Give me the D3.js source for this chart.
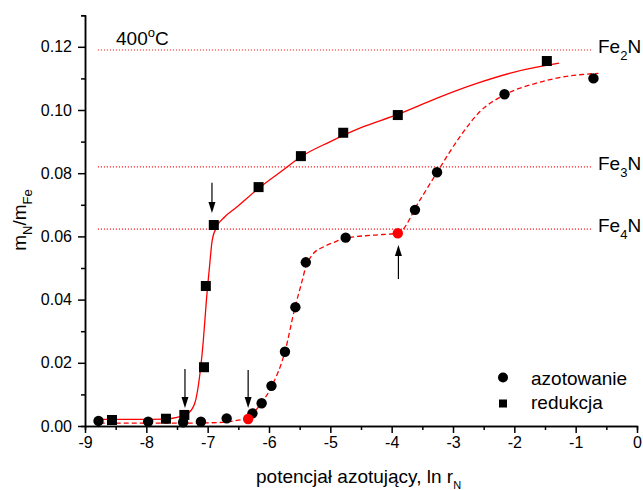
<!DOCTYPE html>
<html>
<head>
<meta charset="utf-8">
<script src="https://cdn.jsdelivr.net/npm/d3@7"></script>
<style>
  body { margin: 0; background: #fff; }
  svg { font-family: "Liberation Sans", Arial, sans-serif; }
  .axis path, .axis line { stroke: #000; stroke-width: 1.5; }
  .axis text { font-size: 16px; fill: #000; }
</style>
</head>
<body>
<svg width="643" height="490"></svg>
<script>
// azotowanie (nitriding) measurements, black circles
var nitridingPts = [[-8.78,0.0016],[-7.97,0.0014],[-7.40,0.0012],[-7.11,0.0014],[-6.69,0.0024],
  [-6.27,0.0040],[-6.12,0.0072],[-5.96,0.0127],[-5.74,0.0235],[-5.57,0.0376],[-5.40,0.0518],
  [-4.75,0.0596],[-3.62,0.0684],[-3.26,0.0803],[-2.16,0.1050],[-0.71,0.1100]];
// highlighted nitriding points (red)
var nitridingRed = [[-6.34,0.0022],[-3.90,0.0610]];
// redukcja (reduction) measurements, squares
var reductionPts = [[-8.56,0.0019],[-7.68,0.0023],[-7.38,0.0035],[-7.06,0.0186],[-7.03,0.0443],
  [-6.90,0.0636],[-6.17,0.0756],[-5.48,0.0854],[-4.79,0.0928],[-3.90,0.0984],[-1.47,0.1155]];

// fitted curves
var reductionFit = [[-8.76,0.0021],[-8.2,0.0021],[-7.7,0.0022],[-7.5,0.0027],[-7.32,0.0040],
  [-7.21,0.0072],[-7.125,0.0167],[-7.07,0.0272],[-7.02,0.0399],[-6.97,0.0504],[-6.925,0.0589],
  [-6.85,0.0631],[-6.72,0.0662],[-6.55,0.0689],[-6.17,0.0752],[-5.77,0.0810],[-5.48,0.0852],
  [-5.0,0.0900],[-4.5,0.0944],[-3.9,0.0986],[-3.27,0.1037],[-2.6,0.1085],[-2.0,0.1120],[-1.27,0.1148]];
var nitridingFit = [[-8.76,0.0009],[-7.5,0.0009],[-6.8,0.0011],[-6.55,0.0017],[-6.36,0.0024],
  [-6.15,0.0066],[-5.96,0.0124],[-5.74,0.0235],[-5.58,0.0372],[-5.47,0.0452],[-5.40,0.0503],
  [-5.30,0.0540],[-5.1,0.0568],[-4.92,0.0583],[-4.76,0.0594],[-4.3,0.0604],[-3.9,0.0610],[-3.54,0.0715],
  [-3.26,0.0803],[-2.885,0.0916],[-2.56,0.0995],[-2.16,0.1048],[-1.64,0.1085],[-1.09,0.1108],[-0.63,0.1116]];

// phase levels (dotted lines)
var phaseNames = ['2', '3', '4'];
var phaseLevels = [0.119, 0.082, 0.0623];
var phaseRange = [-8.79, -0.72];

// arrows: x, start value, tip value
var arrows = [[-6.93,0.0770,0.0674],[-7.37,0.0180,0.0057],[-6.34,0.0177,0.0057],[-3.89,0.0465,0.0573]];

var xTicks = d3.range(-9, 0.5, 1);
var yTicks = [0, 0.02, 0.04, 0.06, 0.08, 0.10, 0.12];

var svg = d3.select('svg');
var x = d3.scaleLinear().domain([-9, 0]).range([85, 637]);
var y = d3.scaleLinear().domain([0, 0.13]).range([426, 15.2]);

// minor ticks
svg.append('g').attr('class', 'axis')
    .attr('transform', 'translate(0,426)')
    .call(d3.axisBottom(x).tickValues(d3.range(-8.5, 0, 1)).tickSize(4).tickFormat(''));
svg.append('g').attr('class', 'axis')
    .attr('transform', 'translate(85,0)')
    .call(d3.axisLeft(y).tickValues(d3.range(0.01, 0.135, 0.02)).tickSize(4).tickFormat(''));

// major axes
svg.append('g').attr('class', 'axis')
    .attr('transform', 'translate(0,426)')
    .call(d3.axisBottom(x).tickValues(xTicks).tickSize(7).tickSizeOuter(0).tickPadding(4)
      .tickFormat(d => d === 0 ? '0' : String(d).replace('−', '-')));
svg.append('g').attr('class', 'axis')
    .attr('transform', 'translate(85,0)')
    .call(d3.axisLeft(y).tickValues(yTicks).tickSize(7).tickSizeOuter(0).tickPadding(6)
      .tickFormat(d3.format('.2f')));

// dotted phase lines + labels
phaseLevels.forEach((v, i) => {
    svg.append('line')
        .attr('x1', x(phaseRange[0])).attr('x2', x(phaseRange[1]))
        .attr('y1', y(v)).attr('y2', y(v))
        .attr('stroke', '#ff0000').attr('stroke-width', 1.1)
        .attr('stroke-dasharray', '1,2');
    var t = svg.append('text')
        .attr('x', 598).attr('y', y(v) + 3)
        .style('font-size', '19px');
    t.append('tspan').text('Fe');
    t.append('tspan').attr('dy', 7).style('font-size', '13px').text(phaseNames[i]);
    t.append('tspan').attr('dy', -7).text('N');
});

// fitted curves
var line = d3.line().x(d => x(d[0])).y(d => y(d[1])).curve(d3.curveMonotoneX);
svg.append('path').datum(reductionFit)
    .attr('d', line).attr('fill', 'none')
    .attr('stroke', '#ff0000').attr('stroke-width', 1.3);
svg.append('path').datum(nitridingFit)
    .attr('d', line).attr('fill', 'none')
    .attr('stroke', '#ff0000').attr('stroke-width', 1.3)
    .attr('stroke-dasharray', '5,3');

// markers
svg.selectAll('rect.red')
    .data(reductionPts).enter()
    .append('rect')
    .attr('x', d => x(d[0]) - 5).attr('y', d => y(d[1]) - 5)
    .attr('width', 10).attr('height', 10).attr('fill', '#000');
svg.selectAll('circle.nit')
    .data(nitridingPts).enter()
    .append('circle')
    .attr('cx', d => x(d[0])).attr('cy', d => y(d[1]))
    .attr('r', 5.2).attr('fill', '#000');
svg.selectAll('circle.hl')
    .data(nitridingRed).enter()
    .append('circle')
    .attr('cx', d => x(d[0])).attr('cy', d => y(d[1]))
    .attr('r', 5.2).attr('fill', '#ff0000');

// arrows
arrows.forEach(a => {
    var x0 = x(a[0]), y0 = y(a[1]), y1 = y(a[2]);
    var dir = y1 > y0 ? 1 : -1;
    svg.append('line')
        .attr('x1', x0).attr('x2', x0).attr('y1', y0).attr('y2', y1 - dir * 8)
        .attr('stroke', '#000').attr('stroke-width', 1.2);
    svg.append('path')
        .attr('d', 'M' + x0 + ',' + y1 + 'L' + (x0 - 3.5) + ',' + (y1 - dir * 11) +
                   'L' + (x0 + 3.5) + ',' + (y1 - dir * 11) + 'Z')
        .attr('fill', '#000');
});

// 400°C label
var tl = svg.append('text').attr('x', 116).attr('y', 45).style('font-size', '19px');
tl.append('tspan').text('400');
tl.append('tspan').attr('dy', -8).style('font-size', '13px').text('o');
tl.append('tspan').attr('dy', 8).text('C');

// legend
svg.append('circle').attr('cx', 503).attr('cy', 377.5).attr('r', 5).attr('fill', '#000');
svg.append('text').attr('x', 531).attr('y', 384.5).style('font-size', '19px').text('azotowanie');
svg.append('rect').attr('x', 499).attr('y', 399.5).attr('width', 8).attr('height', 8).attr('fill', '#000');
svg.append('text').attr('x', 531).attr('y', 409).style('font-size', '19px').text('redukcja');

// x axis title
var xt = svg.append('text').attr('x', 256).attr('y', 483).style('font-size', '19px');
xt.append('tspan').text('potencjał azotujący, ln r');
xt.append('tspan').attr('dy', 6).style('font-size', '11px').text('N');

// y axis title
var yt = svg.append('text')
    .attr('transform', 'translate(26,220) rotate(-90)')
    .attr('text-anchor', 'middle')
    .style('font-size', '19px');
yt.append('tspan').text('m');
yt.append('tspan').attr('dy', 6).style('font-size', '13px').text('N');
yt.append('tspan').attr('dy', -6).text('/m');
yt.append('tspan').attr('dy', 6).style('font-size', '13px').text('Fe');
</script>
</body>
</html>
